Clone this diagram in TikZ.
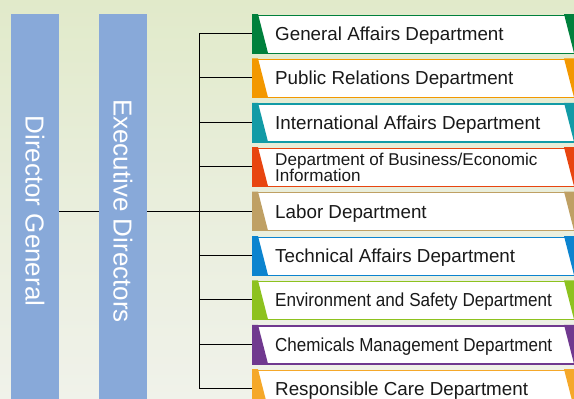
\documentclass[tikz,border=0pt]{standalone}
\usepackage{fontspec}
\setmainfont{Liberation Sans}
\definecolor{bgtop}{HTML}{E1EACA}
\definecolor{bgmid}{HTML}{E9EEDC}
\definecolor{bgbot}{HTML}{F0F2EA}
\definecolor{barblue}{HTML}{88A9D9}
\definecolor{cA}{HTML}{00803C}
\definecolor{cB}{HTML}{F39800}
\definecolor{cC}{HTML}{129BA6}
\definecolor{cD}{HTML}{E84510}
\definecolor{cE}{HTML}{BFA064}
\definecolor{cF}{HTML}{0C84CF}
\definecolor{cG}{HTML}{8DC21F}
\definecolor{cH}{HTML}{70398F}
\definecolor{cI}{HTML}{F5A82A}
\tikzset{
  bar/.style={fill=barblue, draw=none, minimum width=48pt, minimum height=386pt, anchor=north west, inner sep=0pt},
  bartext/.style={text=white, font=\fontsize{26}{28}\selectfont, rotate=-90, inner sep=0pt},
  deptbox/.style={fill=white, draw=#1, line width=1.2pt, minimum width=324pt, minimum height=38pt, anchor=north west, inner sep=0pt},
  depttext/.style={font=\fontsize{18.8}{20}\selectfont, anchor=base west, inner sep=0pt, text=black!90},
  deptsmall/.style={font=\fontsize{17.1}{16}\selectfont, anchor=west, inner sep=0pt, align=left, text=black!90},
  link/.style={draw=black, line width=1pt}
}
\newcommand{\deptentry}[3]{% index, colour, name
  \pgfmathsetmacro{\ytop}{14+44.4*#1}
  \pgfmathsetmacro{\ybot}{\ytop+39}
  \pgfmathsetmacro{\ymid}{\ytop+19.5}
  \node[deptbox=#2] (#3) at (252,\ytop+0.5) {};
  \fill[#2] (252,\ytop) -- (258,\ytop) -- (268,\ybot) -- (252,\ybot) -- cycle;
  \fill[#2] (564,\ytop) -- (576,\ytop) -- (576,\ybot) -- (574,\ybot) -- cycle;
  \draw[link] (spine |- 0,\ymid) -- (#3.west |- 0,\ymid);
}
\begin{document}
\begin{tikzpicture}[x=1pt, y=-1pt]
\useasboundingbox (0,0) rectangle (574,399);
\shade[top color=bgtop, bottom color=bgmid] (0,0) rectangle (574,200);
\shade[top color=bgmid, bottom color=bgbot] (0,200) rectangle (574,399);

\node[bar] (dg) at (11,14) {};
\node[bar] (ed) at (99,14) {};
\node[bartext] (dgt) at (35,211) {Director General};
\node[bartext] (edt) at (123,211) {Executive Directors};

\coordinate (spine) at (199,211);
\coordinate (spinetop) at (199,33);
\coordinate (spinebot) at (199,388.5);
\draw[link] (dg.east |- spine) -- (ed.west |- spine);
\draw[link] (ed.east |- spine) -- (spine);
\draw[link] (spinetop) -- (spinebot);

\deptentry{0}{cA}{d1}
\deptentry{1}{cB}{d2}
\deptentry{2}{cC}{d3}
\deptentry{3}{cD}{d4}
\deptentry{4}{cE}{d5}
\deptentry{5}{cF}{d6}
\deptentry{6}{cG}{d7}
\deptentry{7}{cH}{d8}
\deptentry{8}{cI}{d9}

\node[depttext] (t1) at (275,40.5) {General Affairs Department};
\node[depttext] (t2) at (275,84.9) {Public Relations Department};
\node[depttext] (t3) at (275,129.3) {International Affairs Department};
\node[deptsmall] (t4) at (275,167.5) {Department of Business/Economic\\Information};
\node[depttext] (t5) at (275,218.1) {Labor Department};
\node[depttext] (t6) at (275,262.5) {Technical Affairs Department};
\node[depttext] (t7) at (275,306.9) {\scalebox{0.91}[1]{Environment and Safety Department}};
\node[depttext] (t8) at (275,351.3) {\scalebox{0.905}[1]{Chemicals Management Department}};
\node[depttext] (t9) at (275,395.7) {Responsible Care Department};
\end{tikzpicture}
\end{document}
